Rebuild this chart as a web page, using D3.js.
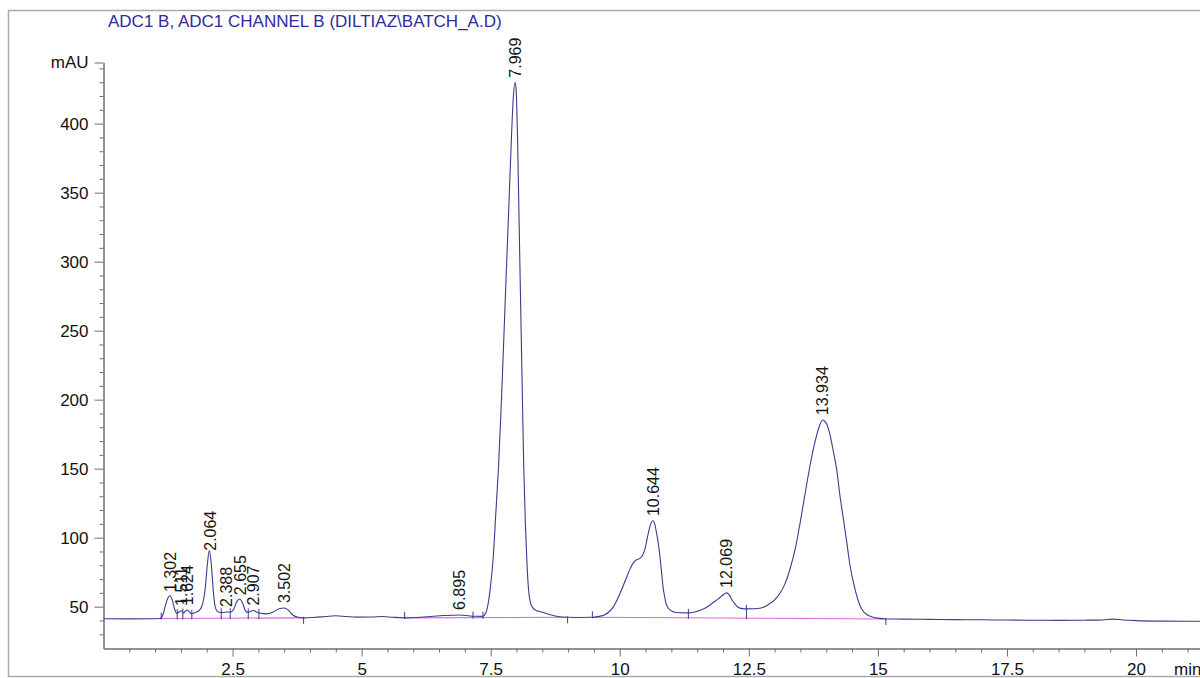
<!DOCTYPE html>
<html>
<head>
<meta charset="utf-8">
<script src="https://cdn.jsdelivr.net/npm/d3@7"></script>
<style>
  html, body { margin: 0; padding: 0; background: #fff; }
  svg { display: block; font-family: "Liberation Sans", Arial, Helvetica, sans-serif; }
</style>
</head>
<body>
<svg id="chart" width="1200" height="678"></svg>
<script>
// ---- chromatogram data -------------------------------------------------
const title = "ADC1 B, ADC1 CHANNEL B (DILTIAZ\\BATCH_A.D)";
const yUnit = "mAU";
const xUnit = "min";

const timeRange = [0, 21.24];       // min
const signalRange = [19.7, 444.3];  // mAU

// detector trace: retention time (min) and absorbance (mAU)
const times = [
  0.00, 0.50, 1.00, 1.09, 1.15, 1.20, 1.25, 1.29, 1.33, 1.38, 1.42, 1.47, 1.51, 1.55, 1.58, 1.62, 1.66, 1.70,
  1.78, 1.86, 1.92, 1.97, 2.01, 2.05, 2.09, 2.13, 2.17, 2.22, 2.30, 2.39, 2.46, 2.52, 2.58, 2.64, 2.70, 2.75,
  2.80, 2.86, 2.91, 2.97, 3.02, 3.15, 3.28, 3.40, 3.50, 3.58, 3.67, 3.78, 3.88, 4.10, 4.30, 4.50, 4.70, 4.90,
  5.20, 5.40, 5.60, 5.83, 6.20, 6.60, 6.90, 7.10, 7.20, 7.35, 7.40, 7.45, 7.50, 7.55, 7.60, 7.65, 7.70, 7.75,
  7.80, 7.85, 7.90, 7.94, 7.97, 7.99, 8.02, 8.05, 8.08, 8.11, 8.14, 8.17, 8.20, 8.23, 8.27, 8.32, 8.40, 8.50,
  8.60, 8.75, 8.97, 9.20, 9.47, 9.60, 9.70, 9.80, 9.87, 9.95, 10.06, 10.13, 10.19, 10.25, 10.30, 10.38, 10.44,
  10.49, 10.55, 10.60, 10.64, 10.68, 10.71, 10.75, 10.78, 10.81, 10.84, 10.87, 10.90, 10.95, 11.03, 11.15,
  11.33, 11.45, 11.55, 11.70, 11.81, 11.92, 12.00, 12.07, 12.12, 12.17, 12.23, 12.29, 12.37, 12.45, 12.60,
  12.71, 12.82, 12.91, 13.00, 13.10, 13.20, 13.30, 13.40, 13.50, 13.60, 13.70, 13.78, 13.86, 13.93, 14.00,
  14.07, 14.14, 14.20, 14.26, 14.33, 14.40, 14.46, 14.53, 14.59, 14.65, 14.72, 14.80, 14.91, 15.00, 15.15,
  15.50, 16.00, 16.50, 17.00, 17.50, 18.00, 18.50, 19.00, 19.35, 19.55, 19.75, 20.00, 20.50, 21.00, 21.40
];
const mAU = [
  41.3, 41.2, 41.3, 41.4, 44.0, 51.0, 56.5, 57.9, 55.0, 48.0, 45.1, 46.3, 47.0, 45.2, 46.5, 47.6, 46.5, 44.8,
  45.8, 47.5, 52.0, 63.0, 80.0, 90.6, 80.0, 60.0, 49.0, 46.2, 45.8, 46.2, 46.0, 48.0, 53.5, 55.6, 52.0, 47.0,
  45.8, 46.8, 47.2, 46.0, 45.4, 44.8, 46.0, 48.5, 49.0, 47.5, 43.8, 42.3, 41.9, 42.3, 42.9, 43.4, 42.9, 42.4,
  42.5, 42.9, 42.3, 41.9, 42.5, 43.6, 44.0, 43.3, 43.1, 43.0, 45.0, 52.0, 66.0, 86.0, 118.0, 150.0, 192.0, 240.0,
  290.0, 338.0, 388.0, 420.0, 430.0, 426.0, 390.0, 330.0, 270.0, 210.0, 152.0, 112.0, 84.0, 64.0, 53.0, 49.0, 47.0, 46.0,
  44.7, 43.3, 42.3, 42.2, 42.3, 43.0, 44.0, 46.5, 49.5, 55.0, 64.5, 71.0, 76.5, 81.0, 83.3, 84.8, 87.0,
  92.0, 102.7, 110.0, 112.3, 109.5, 104.0, 95.0, 86.0, 75.0, 64.0, 57.0, 52.0, 48.5, 46.4, 45.6,
  45.5, 46.2, 47.3, 50.0, 53.0, 56.0, 58.5, 60.0, 58.5, 55.2, 52.0, 49.6, 48.6, 48.4, 48.5,
  48.9, 50.2, 52.3, 55.0, 59.5, 66.5, 77.5, 92.0, 112.0, 134.0, 155.0, 169.0, 180.0, 185.3, 183.0,
  175.0, 162.0, 150.0, 132.0, 114.0, 96.0, 80.0, 67.0, 58.0, 51.0, 46.5, 44.0, 42.4, 41.7, 41.1,
  41.0, 40.8, 40.6, 40.5, 40.3, 40.2, 40.1, 40.2, 40.4, 41.0, 40.4, 39.9, 39.5, 39.4, 39.4
];

// labelled peaks (retention times, min)
const peakTimes = [1.302, 1.511, 1.624, 2.064, 2.388, 2.655, 2.907, 3.502, 6.895, 7.969, 10.644, 12.069, 13.934];

// integration baseline segments (min)
const baseStarts = [1.09, 5.833, 9.47];
const baseEnds   = [3.876, 8.99, 15.155];

// integration event marks (min) and whether they hang below the trace
const eventTimes = [1.118, 1.428, 1.537, 1.711, 2.281, 2.455, 2.804, 3.010, 3.876, 5.833, 7.157, 7.350, 8.990, 9.470, 11.330, 12.455, 15.155];
const eventBelow = [false, false, false, false, false, false, false, false, true, false, false, false, true, false, false, false, true];

// axis tick steps
const xMajorStep = 2.5, xMinorStep = 0.5;
const yMajorStep = 50,  yMinorStep = 10;

// ---- drawing -------------------------------------------------------------
const svg = d3.select("#chart");
const x = d3.scaleLinear().domain(timeRange).range([103.5, 1200]);
const y = d3.scaleLinear().domain(signalRange).range([648.5, 62.5]);
const level = d3.scaleLinear().domain(times).range(mAU).clamp(true); // trace lookup

const INK = "#3c3c8e";
const AXIS = "#6e6e6e";

// outer frame
svg.append("rect")
  .attr("x", 8.5).attr("y", 10.5)
  .attr("width", 1210).attr("height", 666)
  .attr("fill", "none").attr("stroke", "#aaaaaa").attr("stroke-width", 1.5);

// title
svg.append("text")
  .attr("x", 108).attr("y", 27)
  .attr("font-size", 17).attr("fill", "#2c2c9c")
  .text(title);

function styleAxis(g) {
  g.attr("font-size", 17).attr("font-family", null);
  g.select(".domain").attr("stroke", AXIS);
  g.selectAll(".tick line").attr("stroke", AXIS);
  g.selectAll(".tick text").attr("fill", "#111");
}

// y axis
const yMajor = d3.range(yMajorStep, 401, yMajorStep).concat([signalRange[1]]);
const yMinor = d3.range(30, 441, yMinorStep).filter(v => v % yMajorStep !== 0);

svg.append("g")
  .attr("transform", "translate(103.5,0)")
  .call(d3.axisLeft(y).tickValues(yMinor).tickSize(4).tickSizeOuter(0).tickFormat(""))
  .call(styleAxis);

svg.append("g")
  .attr("transform", "translate(103.5,0)")
  .call(d3.axisLeft(y).tickValues(yMajor).tickSize(9).tickPadding(6).tickSizeOuter(0)
    .tickFormat(v => v === signalRange[1] ? yUnit : String(v)))
  .call(styleAxis);

// x axis
const xMajor = d3.range(xMajorStep, 21, xMajorStep);
const xMinor = d3.range(xMinorStep, timeRange[1], xMinorStep).filter(t => Math.abs(t / xMajorStep - Math.round(t / xMajorStep)) > 1e-6);

svg.append("g")
  .attr("transform", "translate(0,648.5)")
  .call(d3.axisBottom(x).tickValues(xMinor).tickSize(4).tickSizeOuter(0).tickFormat(""))
  .call(styleAxis);

svg.append("g")
  .attr("transform", "translate(0,648.5)")
  .call(d3.axisBottom(x).tickValues(xMajor).tickSize(8).tickPadding(6).tickSizeOuter(0).tickFormat(d => String(d)))
  .call(styleAxis);

svg.append("text")
  .attr("x", x(20) + 38).attr("y", 675)
  .attr("font-size", 17).attr("fill", "#111")
  .text(xUnit);

// integration baselines
const baseAt = t => {
  for (let i = 0; i < baseStarts.length; i++) {
    if (t >= baseStarts[i] - 1e-9 && t <= baseEnds[i] + 1e-9) {
      const s = d3.scaleLinear().domain([baseStarts[i], baseEnds[i]]).range([level(baseStarts[i]), level(baseEnds[i])]);
      return s(t);
    }
  }
  return level(t);
};

svg.append("g").selectAll("line")
  .data(baseStarts.map((s, i) => [s, baseEnds[i]]))
  .join("line")
  .attr("x1", d => x(d[0])).attr("y1", d => y(level(d[0])))
  .attr("x2", d => x(d[1])).attr("y2", d => y(level(d[1])))
  .attr("stroke", "#d866d8").attr("stroke-width", 1.1);

// detector trace
const line = d3.line()
  .x((d, i) => x(times[i]))
  .y(d => y(d))
  .curve(d3.curveMonotoneX);

svg.append("path")
  .datum(mAU)
  .attr("d", line)
  .attr("fill", "none")
  .attr("stroke", INK)
  .attr("stroke-width", 1.1)
  .attr("stroke-linejoin", "round");

// integration event marks
svg.append("g").selectAll("line")
  .data(eventTimes.map((t, i) => ({ t, below: eventBelow[i] })))
  .join("line")
  .attr("x1", d => x(d.t)).attr("x2", d => x(d.t))
  .attr("y1", d => d.below ? y(level(d.t)) - 1 : Math.min(y(level(d.t)) - 4, y(baseAt(d.t)) - 6))
  .attr("y2", d => d.below ? y(level(d.t)) + 6 : y(baseAt(d.t)) + 1)
  .attr("stroke", INK).attr("stroke-width", 1);

// retention time labels
const fmt = d3.format(".3f");
svg.append("g").selectAll("text")
  .data(peakTimes)
  .join("text")
  .attr("transform", t => `translate(${x(t)},${y(level(t)) - 5}) rotate(-90)`)
  .attr("dy", "0.35em")
  .attr("font-size", 16)
  .attr("fill", "#151515")
  .text(t => fmt(t));
</script>
</body>
</html>
